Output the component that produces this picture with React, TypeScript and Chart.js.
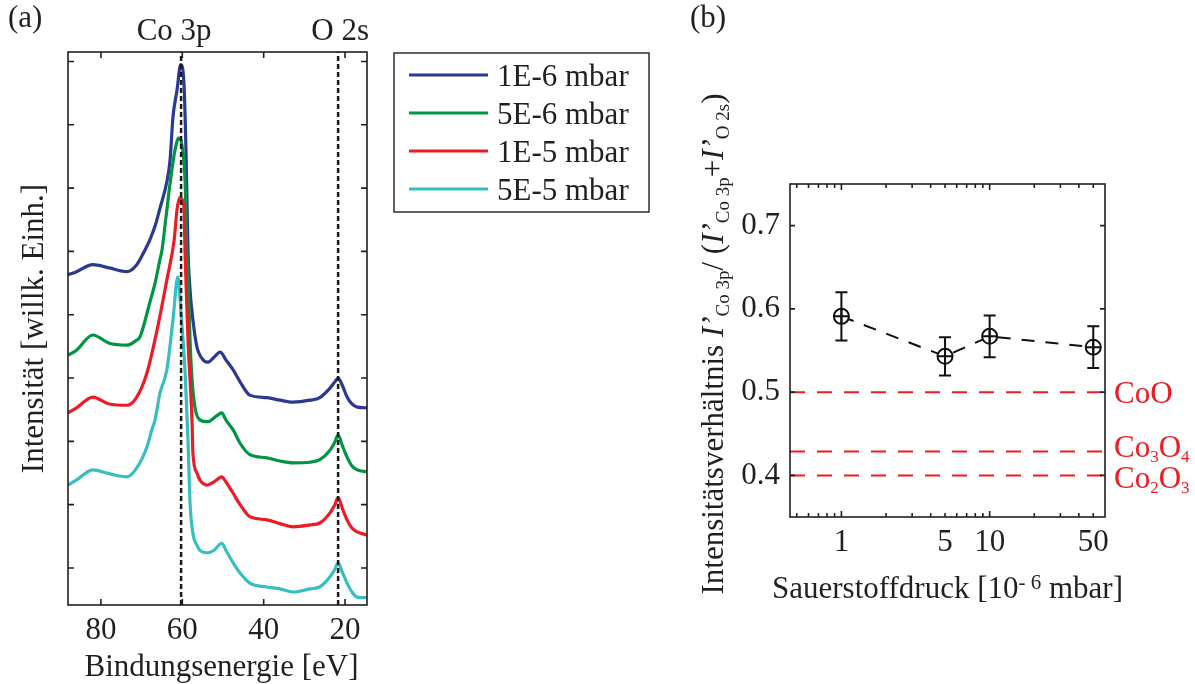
import React, { useEffect, useRef } from 'react';
import { Chart, registerables } from 'chart.js';

Chart.register(...registerables);

const FONT = '"Liberation Serif", "Times New Roman", serif';
const TEXT = '#231f20';

// ---------------- Panel (a): XPS spectra ----------------
const seriesLabels = ['1E-6 mbar', '5E-6 mbar', '1E-5 mbar', '5E-5 mbar'];
const seriesColors = ['#2b3990', '#009444', '#ed1c24', '#35bfbf'];

const blueEnergy = [88.1, 86.0, 82.0, 78.0, 73.6, 71.2, 69.2, 68.0, 66.7, 65.5, 63.8, 63.0, 62.3, 61.3, 60.4, 59.6, 59.1, 58.6, 58.1, 57.4, 56.4, 54.9, 53.7, 52.2, 50.7, 49.3, 47.5, 45.8, 43.4, 39.2, 36.0, 32.8, 28.6, 26.2, 23.7, 22.5, 21.7, 20.7, 19.5, 18.3, 17.0, 14.6];
const blueIntensity = [5.63, 5.68, 5.79, 5.74, 5.68, 5.79, 6.02, 6.18, 6.40, 6.68, 7.10, 7.45, 8.12, 8.55, 8.95, 8.66, 7.60, 6.02, 5.39, 4.92, 4.49, 4.29, 4.25, 4.33, 4.41, 4.29, 4.13, 3.94, 3.73, 3.69, 3.65, 3.62, 3.65, 3.69, 3.84, 3.94, 4.00, 3.89, 3.70, 3.59, 3.54, 3.53];

const greenEnergy = [88.1, 86.0, 82.0, 78.0, 73.6, 71.2, 70.4, 68.0, 66.7, 65.5, 65.0, 64.0, 63.0, 61.8, 60.9, 60.1, 59.3, 58.9, 58.6, 58.1, 57.6, 56.9, 55.7, 53.7, 52.2, 50.3, 49.3, 47.5, 45.8, 43.4, 39.2, 36.0, 32.8, 28.6, 26.2, 23.7, 22.5, 21.7, 20.7, 19.5, 18.3, 17.0, 14.6];
const greenIntensity = [4.36, 4.44, 4.68, 4.55, 4.52, 4.60, 4.65, 5.19, 5.50, 5.87, 6.02, 6.55, 7.08, 7.60, 7.79, 7.68, 7.08, 6.02, 5.66, 4.60, 3.97, 3.54, 3.34, 3.31, 3.37, 3.45, 3.34, 3.18, 2.97, 2.79, 2.74, 2.69, 2.66, 2.67, 2.71, 2.86, 2.99, 3.10, 2.94, 2.75, 2.61, 2.55, 2.52];

const redEnergy = [88.1, 86.0, 82.0, 78.0, 73.6, 71.2, 68.7, 66.2, 63.8, 62.0, 61.3, 60.6, 59.6, 59.3, 58.6, 57.6, 57.4, 56.4, 55.7, 53.9, 52.2, 50.3, 49.3, 47.5, 45.8, 43.4, 39.2, 36.0, 32.8, 28.6, 26.2, 23.7, 22.5, 21.7, 20.7, 19.5, 18.3, 17.0, 14.6];
const redIntensity = [3.45, 3.53, 3.70, 3.59, 3.57, 3.70, 4.08, 4.76, 5.55, 6.18, 6.66, 6.85, 6.70, 5.91, 4.60, 3.29, 2.82, 2.50, 2.39, 2.31, 2.36, 2.44, 2.36, 2.18, 2.00, 1.81, 1.76, 1.70, 1.65, 1.68, 1.71, 1.87, 2.00, 2.11, 1.95, 1.76, 1.63, 1.57, 1.52];

const cyanEnergy = [88.1, 86.0, 82.0, 78.0, 73.6, 71.2, 68.7, 67.5, 66.7, 65.5, 63.8, 62.3, 61.1, 60.3, 59.3, 58.6, 58.1, 57.4, 56.4, 55.7, 53.9, 52.2, 50.3, 49.3, 47.5, 45.8, 43.4, 39.2, 36.0, 32.8, 28.6, 26.2, 23.7, 22.5, 21.7, 20.7, 19.5, 18.3, 17.0, 14.6];
const cyanIntensity = [2.31, 2.39, 2.55, 2.49, 2.44, 2.58, 2.91, 3.18, 3.34, 3.76, 4.13, 4.92, 5.60, 5.00, 4.08, 3.02, 2.03, 1.55, 1.36, 1.28, 1.24, 1.28, 1.39, 1.28, 1.08, 0.92, 0.76, 0.70, 0.67, 0.62, 0.67, 0.70, 0.86, 0.98, 1.08, 0.94, 0.76, 0.62, 0.54, 0.53];

const seriesEnergy = [blueEnergy, greenEnergy, redEnergy, cyanEnergy];
const seriesIntensity = [blueIntensity, greenIntensity, redIntensity, cyanIntensity];

const peakLabels = ['Co 3p', 'O 2s'];
const peakEnergies = [60.3, 21.7];
const peakLabelShift = [-7, 2];

const energyTicks = [20, 40, 60, 80];
const intensityTicks = [1, 2, 3, 4, 5, 6, 7, 8, 9];
const energyMin = 14.6;
const energyMax = 88.1;
const intensityMin = 0.415;
const intensityMax = 9.15;

// ---------------- Panel (b): intensity ratio ----------------
const pressures = [1, 5, 10, 50];
const ratio = [0.591, 0.543, 0.567, 0.554];
const ratioErr = [0.029, 0.023, 0.025, 0.025];

const pressureTicks = [0.5, 0.6, 0.7, 0.8, 0.9, 1, 2, 3, 4, 5, 6, 7, 8, 9, 10, 20, 30, 40, 50];
const pressureLabels = [1, 5, 10, 50];
const ratioTicks = [0.4, 0.5, 0.6, 0.7];
const pressureMin = 0.45;
const pressureMax = 60;
const ratioMin = 0.35;
const ratioMax = 0.75;

const refNames = ['CoO', 'Co3O4', 'Co2O3'];
const refValues = [0.5, 0.4286, 0.4];
const refLabelDy = [11, 5, 13];
const REF_RED = '#ed1c24';

// ---------------- text helpers ----------------
type Part = { t: string; size: number; italic?: boolean; dy?: number };

function fontOf(p: Part) {
  return `${p.italic ? 'italic ' : ''}${p.size}px ${FONT}`;
}

function richWidth(ctx: CanvasRenderingContext2D, parts: Part[]) {
  let w = 0;
  for (const p of parts) {
    ctx.font = fontOf(p);
    w += ctx.measureText(p.t).width;
  }
  return w;
}

function drawRich(ctx: CanvasRenderingContext2D, parts: Part[], x: number, y: number, align: 'left' | 'center') {
  const w = richWidth(ctx, parts);
  let cx = align === 'center' ? x - w / 2 : x;
  ctx.textAlign = 'left';
  ctx.textBaseline = 'alphabetic';
  for (const p of parts) {
    ctx.font = fontOf(p);
    ctx.fillText(p.t, cx, y + (p.dy || 0));
    cx += ctx.measureText(p.t).width;
  }
}

function chemParts(name: string, size: number, subSize: number): Part[] {
  const parts: Part[] = [];
  let buf = '';
  for (const ch of name) {
    if (/[0-9]/.test(ch)) {
      if (buf) { parts.push({ t: buf, size }); buf = ''; }
      parts.push({ t: ch, size: subSize, dy: 5 });
    } else buf += ch;
  }
  if (buf) parts.push({ t: buf, size });
  return parts;
}

// ---------------- plugins ----------------
const panelAPlugin = {
  id: 'panelA',
  afterDraw(chart: any) {
    const { ctx, chartArea: ca, scales } = chart;
    const xs = scales.x;
    const ys = scales.y;
    ctx.save();
    ctx.strokeStyle = TEXT;
    ctx.lineWidth = 1.6;
    ctx.strokeRect(ca.left, ca.top, ca.right - ca.left, ca.bottom - ca.top);
    ctx.beginPath();
    for (const v of energyTicks) {
      const px = xs.getPixelForValue(v);
      ctx.moveTo(px, ca.bottom); ctx.lineTo(px, ca.bottom - 6);
      ctx.moveTo(px, ca.top); ctx.lineTo(px, ca.top + 6);
    }
    for (const v of intensityTicks) {
      const py = ys.getPixelForValue(v);
      ctx.moveTo(ca.left, py); ctx.lineTo(ca.left + 6, py);
      ctx.moveTo(ca.right, py); ctx.lineTo(ca.right - 6, py);
    }
    ctx.stroke();

    ctx.fillStyle = TEXT;
    drawRich(ctx, [{ t: '(a)', size: 31 }], 8, 27, 'left');
    peakEnergies.forEach((e, i) => {
      const px = xs.getPixelForValue(e) + peakLabelShift[i];
      drawRich(ctx, [{ t: peakLabels[i], size: 31 }], px, ca.top - 12, 'center');
    });
    drawRich(ctx, [{ t: 'Bindungsenergie [eV]', size: 31 }], (ca.left + ca.right) / 2 + 4, 676, 'center');

    ctx.save();
    ctx.translate(43, (ca.top + ca.bottom) / 2);
    ctx.rotate(-Math.PI / 2);
    drawRich(ctx, [{ t: 'Intensität [willk. Einh.]', size: 31 }], 0, 0, 'center');
    ctx.restore();

    // legend
    const lx = 394, ly = 53, lw = 255, lh = 159;
    ctx.lineWidth = 1.4;
    ctx.strokeStyle = TEXT;
    ctx.strokeRect(lx, ly, lw, lh);
    seriesLabels.forEach((label, i) => {
      const yy = 75 + i * 38;
      ctx.strokeStyle = seriesColors[i];
      ctx.lineWidth = 3;
      ctx.beginPath();
      ctx.moveTo(409, yy); ctx.lineTo(488, yy);
      ctx.stroke();
      ctx.fillStyle = TEXT;
      drawRich(ctx, [{ t: label, size: 31 }], 497, yy + 10.5, 'left');
    });
    ctx.restore();
  },
};

const panelBPlugin = {
  id: 'panelB',
  afterDatasetsDraw(chart: any) {
    const { ctx, scales } = chart;
    const xs = scales.x;
    const ys = scales.y;
    ctx.save();
    ctx.strokeStyle = '#111';
    ctx.lineWidth = 2;
    pressures.forEach((p, i) => {
      const px = xs.getPixelForValue(p);
      const top = ys.getPixelForValue(ratio[i] + ratioErr[i]);
      const bot = ys.getPixelForValue(ratio[i] - ratioErr[i]);
      ctx.beginPath();
      ctx.moveTo(px, top); ctx.lineTo(px, bot);
      ctx.moveTo(px - 6, top); ctx.lineTo(px + 6, top);
      ctx.moveTo(px - 6, bot); ctx.lineTo(px + 6, bot);
      ctx.stroke();
    });
    ctx.restore();
  },
  afterDraw(chart: any) {
    const { ctx, chartArea: ca, scales } = chart;
    const xs = scales.x;
    const ys = scales.y;
    ctx.save();
    ctx.strokeStyle = TEXT;
    ctx.lineWidth = 1.6;
    ctx.strokeRect(ca.left, ca.top, ca.right - ca.left, ca.bottom - ca.top);
    ctx.beginPath();
    for (const v of pressureTicks) {
      const px = xs.getPixelForValue(v);
      const len = v === 1 || v === 10 ? 6 : 4;
      ctx.moveTo(px, ca.bottom); ctx.lineTo(px, ca.bottom - len);
      ctx.moveTo(px, ca.top); ctx.lineTo(px, ca.top + len);
    }
    for (const v of ratioTicks) {
      const py = ys.getPixelForValue(v);
      ctx.moveTo(ca.left, py); ctx.lineTo(ca.left + 5, py);
      ctx.moveTo(ca.right, py); ctx.lineTo(ca.right - 5, py);
    }
    ctx.stroke();

    ctx.fillStyle = TEXT;
    drawRich(ctx, [{ t: '(b)', size: 31 }], 0, 27, 'left');
    drawRich(ctx, [
      { t: 'Sauerstoffdruck [10', size: 31 },
      { t: '- 6', size: 21, dy: -9 },
      { t: ' mbar]', size: 31 },
    ], (ca.left + ca.right) / 2, 598, 'center');

    ctx.save();
    ctx.translate(33, 344);
    ctx.rotate(-Math.PI / 2);
    drawRich(ctx, [
      { t: 'Intensitätsverhältnis ', size: 31 },
      { t: 'I’', size: 31, italic: true },
      { t: 'Co 3p', size: 19, dy: 6 },
      { t: '/ (', size: 31 },
      { t: 'I’', size: 31, italic: true },
      { t: 'Co 3p', size: 19, dy: 6 },
      { t: '+', size: 31 },
      { t: 'I’', size: 31, italic: true },
      { t: 'O 2s', size: 19, dy: 6 },
      { t: ')', size: 31 },
    ], 0, 0, 'center');
    ctx.restore();

    ctx.fillStyle = REF_RED;
    refNames.forEach((name, i) => {
      const py = ys.getPixelForValue(refValues[i]);
      drawRich(ctx, chemParts(name, 31, 17), ca.right + 9, py + refLabelDy[i], 'left');
    });
    ctx.restore();
  },
};

// ---------------- configs ----------------
function buildConfigA(): any {
  const datasets: any[] = [];
  peakEnergies.forEach((e, i) => {
    datasets.push({
      label: peakLabels[i],
      data: [{ x: e, y: intensityMin }, { x: e, y: intensityMax }],
      borderColor: '#1a1a1a',
      borderWidth: 2.5,
      borderDash: [5, 3],
      pointRadius: 0,
      order: 0,
    });
  });
  seriesEnergy.forEach((E, k) => {
    datasets.push({
      label: seriesLabels[k],
      data: E.map((e, i) => ({ x: e, y: seriesIntensity[k][i] })),
      borderColor: seriesColors[k],
      borderWidth: 3.2,
      pointRadius: 0,
      cubicInterpolationMode: 'monotone',
      order: 4 - k,
    });
  });
  return {
    type: 'line',
    data: { datasets },
    options: {
      responsive: false,
      animation: false,
      devicePixelRatio: 1,
      events: [],
      layout: { padding: { left: 68, right: 323, top: 52, bottom: 0 } },
      plugins: { legend: { display: false }, tooltip: { enabled: false } },
      scales: {
        x: {
          type: 'linear',
          reverse: true,
          min: energyMin,
          max: energyMax,
          afterBuildTicks: (s: any) => { s.ticks = energyTicks.map((v) => ({ value: v })); },
          afterFit: (s: any) => { s.height = 79; },
          grid: { display: false, drawTicks: false },
          border: { display: false },
          ticks: {
            autoSkip: false,
            maxRotation: 0,
            padding: 7,
            color: TEXT,
            font: { family: FONT, size: 31 },
            callback: (v: any) => String(v),
          },
        },
        y: {
          type: 'linear',
          min: intensityMin,
          max: intensityMax,
          afterFit: (s: any) => { s.width = 0; },
          grid: { display: false, drawTicks: false },
          border: { display: false },
          ticks: { display: false },
        },
      },
    },
    plugins: [panelAPlugin],
  };
}

function buildConfigB(): any {
  const datasets: any[] = [];
  refValues.forEach((v, i) => {
    datasets.push({
      label: refNames[i],
      data: [{ x: pressureMin, y: v }, { x: pressureMax, y: v }],
      borderColor: REF_RED,
      borderWidth: 2,
      borderDash: [15, 12],
      pointRadius: 0,
      order: 3,
    });
  });
  datasets.push({
    label: 'ratio',
    data: pressures.map((p, i) => ({ x: p, y: ratio[i] })),
    borderColor: '#111',
    borderWidth: 2,
    borderDash: [13, 11],
    pointStyle: 'circle',
    pointRadius: 7.5,
    pointBorderWidth: 2,
    pointBorderColor: '#111',
    pointBackgroundColor: '#ffffff',
    order: 2,
  });
  datasets.push({
    label: 'ratio-cross',
    data: pressures.map((p, i) => ({ x: p, y: ratio[i] })),
    showLine: false,
    pointStyle: 'cross',
    pointRadius: 7.5,
    pointBorderWidth: 2,
    pointBorderColor: '#111',
    order: 1,
  });
  return {
    type: 'line',
    data: { datasets },
    options: {
      responsive: false,
      animation: false,
      devicePixelRatio: 1,
      events: [],
      layout: { padding: { left: 0, right: 90, top: 184, bottom: 0 } },
      plugins: { legend: { display: false }, tooltip: { enabled: false } },
      scales: {
        x: {
          type: 'logarithmic',
          min: pressureMin,
          max: pressureMax,
          afterBuildTicks: (s: any) => { s.ticks = pressureTicks.map((v) => ({ value: v })); },
          afterFit: (s: any) => { s.height = 167; },
          grid: { display: false, drawTicks: false },
          border: { display: false },
          ticks: {
            autoSkip: false,
            maxRotation: 0,
            padding: 7,
            color: TEXT,
            font: { family: FONT, size: 31 },
            callback: (v: any) => (pressureLabels.includes(Number(v)) ? String(v) : ''),
          },
        },
        y: {
          type: 'linear',
          min: ratioMin,
          max: ratioMax,
          afterBuildTicks: (s: any) => { s.ticks = ratioTicks.map((v) => ({ value: v })); },
          afterFit: (s: any) => { s.width = 100; },
          grid: { display: false, drawTicks: false },
          border: { display: false },
          ticks: {
            autoSkip: false,
            padding: 10,
            color: TEXT,
            font: { family: FONT, size: 31 },
            callback: (v: any) => Number(v).toFixed(1),
          },
        },
      },
    },
    plugins: [panelBPlugin],
  };
}

export default function App() {
  const refA = useRef<HTMLCanvasElement | null>(null);
  const refB = useRef<HTMLCanvasElement | null>(null);
  useEffect(() => {
    const a = new Chart(refA.current as HTMLCanvasElement, buildConfigA());
    const b = new Chart(refB.current as HTMLCanvasElement, buildConfigB());
    return () => {
      a.destroy();
      b.destroy();
    };
  }, []);
  return (
    <div style={{ position: 'absolute', left: 0, top: 0, width: 1195, height: 684, background: '#ffffff', overflow: 'hidden' }}>
      <canvas ref={refA} width={690} height={684} style={{ position: 'absolute', left: 0, top: 0, width: 690, height: 684 }} />
      <canvas ref={refB} width={505} height={684} style={{ position: 'absolute', left: 690, top: 0, width: 505, height: 684 }} />
    </div>
  );
}
